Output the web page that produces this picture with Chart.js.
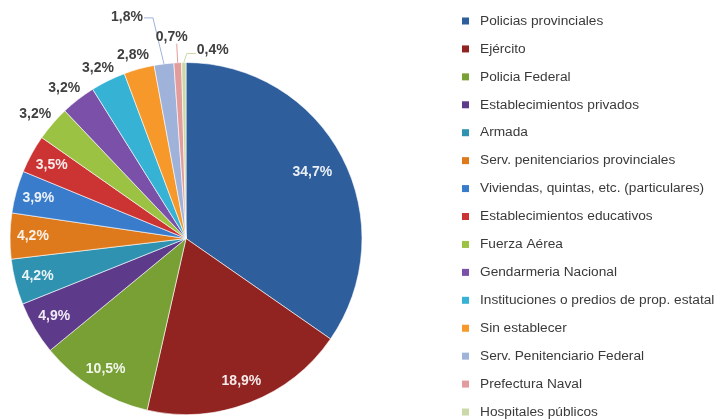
<!DOCTYPE html>
<html>
<head>
<meta charset="utf-8">
<script src="https://cdn.jsdelivr.net/npm/chart.js@4/dist/chart.umd.min.js"></script>
<style>
  html, body { margin: 0; padding: 0; background: #fff; }
  #wrap { position: relative; width: 715px; height: 419px; }
</style>
</head>
<body>
<div id="wrap"><canvas id="pie"></canvas></div>
<script>
const categories = [
  "Policias provinciales",
  "Ejército",
  "Policia Federal",
  "Establecimientos privados",
  "Armada",
  "Serv. penitenciarios provinciales",
  "Viviendas, quintas, etc. (particulares)",
  "Establecimientos educativos",
  "Fuerza Aérea",
  "Gendarmeria Nacional",
  "Instituciones o predios de prop. estatal",
  "Sin establecer",
  "Serv. Penitenciario Federal",
  "Prefectura Naval",
  "Hospitales públicos",
];
const shares = [34.7, 18.9, 10.5, 4.9, 4.2, 4.2, 3.9, 3.5, 3.2, 3.2, 3.2, 2.8, 1.8, 0.7, 0.4];

const sliceColors = [
  "#2f5e9c", "#912320", "#78a035", "#5e3a8a", "#2f92b0",
  "#df7a1c", "#3a7ccc", "#cc3434", "#9bc243", "#7b50a8",
  "#36b3d4", "#f6982a", "#9fb2da", "#e29c9c", "#cbd9a9",
];

// hand-placed labels with leader lines for the thinnest slices
const leaderLayout = {
  12: { label: [-37, -47], path: [[26, 1], [17, 1]] },
  13: { label: [-6, -26], path: [[5, 7]] },
  14: { label: [29, -12], path: [[-26, 3], [-17, 3]] },
};

function pct(v) {
  return v.toFixed(1).replace(".", ",") + "%";
}

const sliceLabels = {
  id: "sliceLabels",
  afterDatasetsDraw(chart) {
    const ctx = chart.ctx;
    const arcs = chart.getDatasetMeta(0).data;
    ctx.save();
    ctx.font = "bold 14px 'Liberation Sans', Arial, sans-serif";
    ctx.textAlign = "center";
    ctx.textBaseline = "middle";
    arcs.forEach((arc, i) => {
      const { x, y, startAngle, endAngle, outerRadius } = arc.getProps(
        ["x", "y", "startAngle", "endAngle", "outerRadius"],
        true,
      );
      const mid = (startAngle + endAngle) / 2;
      const dx = Math.cos(mid);
      const dy = Math.sin(mid);
      const text = pct(shares[i]);

      if (shares[i] >= 3.5) {
        const f = shares[i] > 25 ? 0.81 : 0.87;
        ctx.fillStyle = "rgba(255,255,255,0.9)";
        ctx.fillText(text, x + dx * outerRadius * f, y + dy * outerRadius * f);
        return;
      }

      const ex = x + dx * outerRadius;
      const ey = y + dy * outerRadius;
      const lead = leaderLayout[i];
      if (lead) {
        const lx = ex + lead.label[0];
        const ly = ey + lead.label[1];
        ctx.strokeStyle = sliceColors[i];
        ctx.lineWidth = 1;
        ctx.beginPath();
        ctx.moveTo(ex, ey);
        lead.path.forEach((p) => ctx.lineTo(lx + p[0], ly + p[1]));
        ctx.stroke();
        ctx.fillStyle = "#404040";
        ctx.fillText(text, lx, ly);
        return;
      }

      const w = ctx.measureText(text).width;
      const px = ex + dx * 7 + (dx * w) / 2;
      const py = ey + dy * 7 + dy * 7;
      ctx.fillStyle = "#404040";
      ctx.fillText(text, px, py);
    });
    ctx.restore();
  },
};

const sideLegend = {
  id: "sideLegend",
  afterDraw(chart) {
    const ctx = chart.ctx;
    ctx.save();
    ctx.font = "13.7px 'Liberation Sans', Arial, sans-serif";
    ctx.textAlign = "left";
    ctx.textBaseline = "middle";
    categories.forEach((name, i) => {
      const yy = 21 + i * 27.93;
      ctx.fillStyle = sliceColors[i];
      ctx.fillRect(462, yy - 3.5, 7, 7);
      ctx.fillStyle = "#3a3a3a";
      ctx.fillText(name, 480, yy);
    });
    ctx.restore();
  },
};

new Chart(document.getElementById("pie"), {
  type: "pie",
  data: {
    labels: categories,
    datasets: [
      {
        data: shares,
        backgroundColor: sliceColors,
        borderColor: "rgba(255,255,255,0.6)",
        borderWidth: 1,
      },
    ],
  },
  options: {
    responsive: true,
    maintainAspectRatio: false,
    animation: false,
    layout: {
      padding: { left: 9, top: 62, bottom: 4, right: 352 },
    },
    plugins: {
      legend: { display: false },
      tooltip: { enabled: false },
    },
  },
  plugins: [sliceLabels, sideLegend],
});
</script>
</body>
</html>
